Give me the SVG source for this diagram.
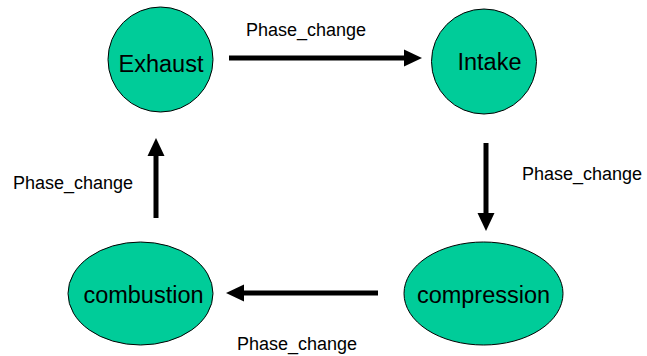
<svg xmlns="http://www.w3.org/2000/svg" width="647" height="356" viewBox="0 0 647 356">
  <style>
    .node { fill: #00cc99; stroke: #000; stroke-width: 1; }
    .name { font-family: "Liberation Sans", Arial, sans-serif; font-size: 23.5px; fill: #000; text-anchor: middle; }
    .lbl { font-family: "Liberation Sans", Arial, sans-serif; font-size: 18px; fill: #000; }
    .edge { stroke: #000; stroke-width: 5; fill: none; }
    .head { fill: #000; stroke: none; }
  </style>
  <rect width="647" height="356" fill="#fff"/>

  <g id="connectors">
    <!-- Exhaust -> Intake -->
    <line class="edge" x1="229" y1="58" x2="405" y2="58"/>
    <polygon class="head" points="422,58 404,49.5 404,66.5"/>
    <!-- Intake -> compression -->
    <line class="edge" x1="486" y1="143" x2="486" y2="214"/>
    <polygon class="head" points="486,231 477.5,213 494.5,213"/>
    <!-- compression -> combustion -->
    <line class="edge" x1="378" y1="293" x2="243" y2="293"/>
    <polygon class="head" points="226,293 244,284.5 244,301.5"/>
    <!-- combustion -> Exhaust -->
    <line class="edge" x1="156" y1="218" x2="156" y2="155"/>
    <polygon class="head" points="156,138 147.5,156 164.5,156"/>

    <text class="lbl" x="246" y="36">Phase_change</text>
    <text class="lbl" x="522" y="180">Phase_change</text>
    <text class="lbl" x="237" y="350">Phase_change</text>
    <text class="lbl" x="13" y="189">Phase_change</text>
  </g>

  <g id="exhaust">
    <circle class="node" cx="160.5" cy="59.5" r="52.5"/>
    <text class="name" x="161" y="72">Exhaust</text>
  </g>
  <g id="intake">
    <circle class="node" cx="484" cy="61.5" r="52.5"/>
    <text class="name" x="489.5" y="70">Intake</text>
  </g>
  <g id="compression">
    <ellipse class="node" cx="483.5" cy="293.5" rx="79.5" ry="51.5"/>
    <text class="name" x="483.5" y="303">compression</text>
  </g>
  <g id="combustion">
    <ellipse class="node" cx="140.5" cy="293.5" rx="72.5" ry="51.5"/>
    <text class="name" x="143.5" y="303">combustion</text>
  </g>
</svg>
